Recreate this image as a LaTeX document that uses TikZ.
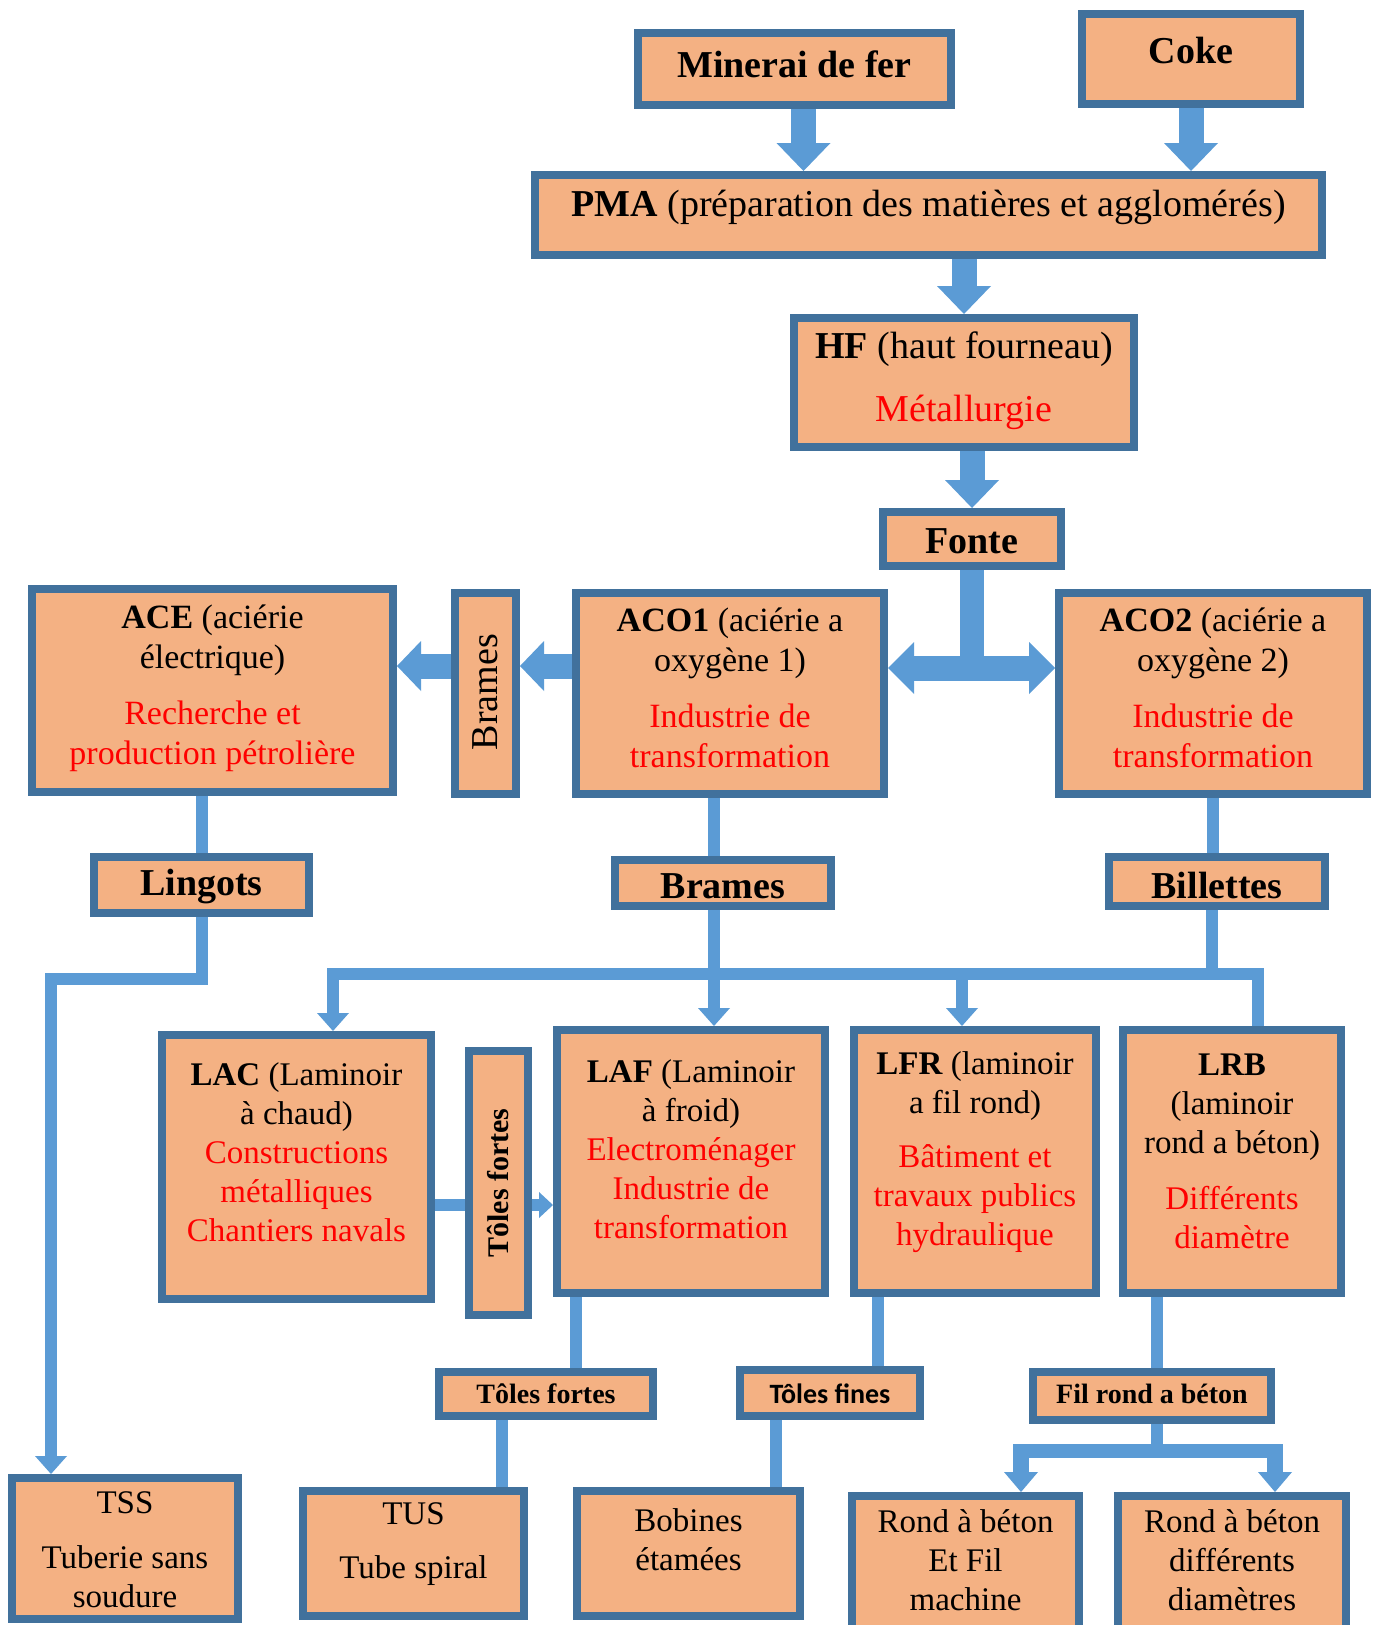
\documentclass[tikz,border=0pt]{standalone}
\usepackage{fontspec}
\setmainfont{Liberation Serif}
\newfontfamily\calibrifam{Carlito}
\usetikzlibrary{arrows.meta}

\definecolor{boxfill}{HTML}{F4B183}
\definecolor{boxline}{HTML}{41719C}
\definecolor{flow}{HTML}{5B9BD5}
\definecolor{usage}{HTML}{FF0000}

\newcommand{\fbig}{\fontsize{38}{44}\selectfont}
\newcommand{\fmid}{\fontsize{34}{40}\selectfont}
\newcommand{\fsml}{\fontsize{33}{39}\selectfont}
\newcommand{\fvert}{\fontsize{30}{36}\selectfont}
\newcommand{\ftag}{\fontsize{28}{33}\selectfont}
\newcommand{\appl}[1]{\textcolor{usage}{#1}}

% \procbox[label style]{name}{x1}{y1}{x2}{y2}{label y}{label}
% outer corners of the framed box, label centred horizontally at label y
\newcommand{\procbox}[8][]{%
  \node[blk, minimum width={#5-#3-8}, minimum height={#6-#4-8}]
    (#2) at ({(#3+#5)/2},{(#4+#6)/2}) {};
  \node[lbl, #1] (#2-t) at ({(#3+#5)/2},#7) {#8};
}

\begin{document}
\begin{tikzpicture}[x=1pt, y=-1pt,
  blk/.style={rectangle, draw=boxline, fill=boxfill, line width=8pt, inner sep=0pt},
  lbl/.style={inner sep=0pt, align=center, text=black},
  fat/.style={draw=flow, line width=25pt, -{Triangle[width=54pt,length=28pt,line width=0pt]}},
  stem/.style={draw=flow, line width=24pt},
  side/.style={draw=flow, line width=25pt, -{Triangle[width=50pt,length=24pt,line width=0pt]}},
  dbl/.style={draw=flow, line width=25pt,
    {Triangle[width=52pt,length=26pt,line width=0pt]}-{Triangle[width=52pt,length=26pt,line width=0pt]}},
  link/.style={draw=flow, line width=12pt},
  feed/.style={link, -{Triangle[width=32pt,length=18pt,line width=0pt]}},
  nudge/.style={link, -{Triangle[width=26pt,length=14pt,line width=0pt]}},
  drop/.style={draw=flow, line width=16pt, -{Triangle[width=34pt,length=20pt,line width=0pt]}},
]
\useasboundingbox (0,0) rectangle (1375,1625);
\fill[white] (0,0) rectangle (1375,1625);

% ---------- upstream chain ----------
\procbox[font=\fbig]{minerai}{634}{29}{955}{109}{64}{\textbf{Minerai de fer}}
\procbox[font=\fbig]{coke}{1078}{10}{1304}{108}{51}{\textbf{Coke}}
\procbox[font=\fbig]{pma}{531}{171}{1326}{259}{207}{\textbf{PMA} (préparation des matières et agglomérés)}
\procbox[font=\fbig]{hf}{790}{314}{1138}{451}{381}{\textbf{HF} (haut fourneau)\\[19pt]\appl{Métallurgie}}
\procbox[font=\fbig]{fonte}{879}{508}{1065}{570}{541}{\textbf{Fonte}}

% ---------- steel works ----------
\procbox[font=\fmid]{ace}{28}{585}{397}{796}{688}{\textbf{ACE} (aciérie\\électrique)\\[16pt]\appl{Recherche et}\\\appl{production pétrolière}}
\procbox[font=\fbig, rotate=90]{bramv}{451}{589}{520}{798}{692}{Brames}
\procbox[font=\fmid]{aco1}{572}{589}{888}{798}{688}{\textbf{ACO1} (aciérie a\\oxygène 1)\\[16pt]\appl{Industrie de}\\\appl{transformation}}
\procbox[font=\fmid]{aco2}{1055}{589}{1371}{798}{688}{\textbf{ACO2} (aciérie a\\oxygène 2)\\[16pt]\appl{Industrie de}\\\appl{transformation}}

% ---------- semi-finished products ----------
\procbox[font=\fbig]{lingots}{90}{853}{313}{917}{886}{\textbf{Lingots}}
\procbox[font=\fbig]{brames}{611}{856}{835}{910}{886}{\textbf{Brames}}
\procbox[font=\fbig]{billettes}{1105}{853}{1329}{910}{885}{\textbf{Billettes}}

% ---------- rolling mills ----------
\procbox[font=\fsml]{lac}{158}{1031}{435}{1303}{1152}{\textbf{LAC} (Laminoir\\à chaud)\\\appl{Constructions}\\\appl{métalliques}\\\appl{Chantiers navals}}
\procbox[font=\fvert\bfseries, rotate=90]{tfv}{465}{1047}{532}{1319}{1183}{Tôles fortes}
\procbox[font=\fsml]{laf}{553}{1026}{829}{1297}{1149}{\textbf{LAF} (Laminoir\\à froid)\\\appl{Electroménager}\\\appl{Industrie de}\\\appl{transformation}}
\procbox[font=\fsml]{lfr}{850}{1026}{1100}{1297}{1152}{\textbf{LFR} (laminoir\\a fil rond)\\[15pt]\appl{Bâtiment et}\\\appl{travaux publics}\\\appl{hydraulique}}
\procbox[font=\fsml]{lrb}{1119}{1026}{1345}{1297}{1151}{\textbf{LRB}\\(laminoir\\rond a béton)\\[17pt]\appl{Différents}\\\appl{diamètre}}

% ---------- rolled products ----------
\procbox[font=\ftag\bfseries]{tfs}{435}{1368}{657}{1420}{1394}{Tôles fortes}
\procbox[font=\ftag\calibrifam\bfseries]{tfin}{736}{1366}{924}{1420}{1394}{Tôles fines}
\procbox[font=\ftag\bfseries]{filr}{1029}{1368}{1275}{1424}{1394}{Fil rond a béton}

% ---------- end uses ----------
\procbox[font=\fsml]{tss}{8}{1474}{242}{1623}{1550}{TSS\\[16pt]Tuberie sans\\soudure}
\procbox[font=\fsml]{tus}{299}{1487}{528}{1620}{1544}{TUS\\[15pt]Tube spiral}
\procbox[font=\fsml]{bob}{573}{1487}{804}{1620}{1540}{Bobines\\étamées}
\procbox[font=\fsml]{rond1}{848}{1492}{1083}{1645}{1560}{Rond à béton\\Et Fil\\machine}
\procbox[font=\fsml]{rond2}{1114}{1492}{1350}{1645}{1560}{Rond à béton\\différents\\diamètres}

% ---------- routing points ----------
\coordinate (ylev) at (0,668);
\coordinate (yside) at (0,666);
\coordinate (cB) at (714,974);
\coordinate (cBil) at (1212,974);
\coordinate (busL) at (333,974);
\coordinate (busR) at (1258,974);
\coordinate (cLfr) at (962,974);
\coordinate (cTss) at (51,979);
\coordinate (yT) at (0,1205);
\coordinate (xLaf) at (576,0);
\coordinate (xLfr) at (878,0);
\coordinate (xLrb) at (1157,0);
\coordinate (xTus) at (502,0);
\coordinate (xBob) at (776,0);
\coordinate (bus2L) at (1013,1451);
\coordinate (bus2R) at (1283,1451);
\coordinate (r1a) at (1021,1451);
\coordinate (r2a) at (1275,1451);

% ---------- upstream flow ----------
\draw[fat] ([xshift=9pt]minerai.south) -- ([xshift=9pt]minerai.south |- pma.north);
\draw[fat] (coke.south) -- (coke.south |- pma.north);
\draw[fat] (hf.north |- pma.south) -- (hf.north);
\draw[fat] (fonte.north |- hf.south) -- (fonte.north);
\draw[stem] (fonte.south) -- (fonte.south |- ylev);
\draw[dbl] (aco1.east |- ylev) -- (aco2.west |- ylev);
\draw[side] (aco1.west |- yside) -- (bramv.east |- yside);
\draw[side] (bramv.west |- yside) -- (ace.east |- yside);

% ---------- to semi-finished products ----------
\draw[link] (lingots.north |- ace.south) -- (lingots.north);
\draw[link] (cB |- aco1.south) -- (cB |- brames.north);
\draw[link] (aco2.south) -- (aco2.south |- billettes.north);

% ---------- distribution to the mills ----------
\draw[feed] (lingots.south) |- (cTss) -- (cTss |- tss.north);
\draw[feed] (lrb.north -| busR) -- (busR) -- (busL) -- (busL |- lac.north);
\draw[feed] (cB |- brames.south) -- (cB |- laf.north);
\draw[feed] (cLfr) -- (cLfr |- lfr.north);
\draw[link] (cBil |- billettes.south) -- (cBil);
\draw[link] (lac.east |- yT) -- (tfv.west |- yT);
\draw[nudge] (tfv.east |- yT) -- (laf.west |- yT);

% ---------- mills to products ----------
\draw[link] (xLaf |- laf.south) -- (xLaf |- tfs.north);
\draw[link] (xLfr |- lfr.south) -- (xLfr |- tfin.north);
\draw[link] (xLrb |- lrb.south) -- (xLrb |- filr.north);
\draw[link] (xTus |- tfs.south) -- (xTus |- tus.north);
\draw[link] (xBob |- tfin.south) -- (xBob |- bob.north);
\draw[link] (xLrb |- filr.south) -- (xLrb |- bus2L);
\draw[draw=flow, line width=14pt] (bus2L) -- (bus2R);
\draw[drop] (r1a) -- (r1a |- rond1.north);
\draw[drop] (r2a) -- (r2a |- rond2.north);
\end{tikzpicture}
\end{document}
